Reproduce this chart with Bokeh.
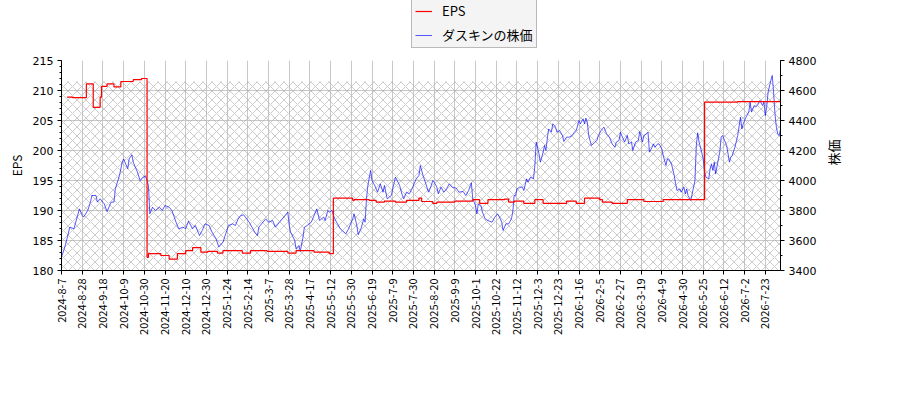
import numpy as np

from bokeh.plotting import figure
from bokeh.layouts import column
from bokeh.models import (
    ColumnDataSource,
    Range1d,
    LinearAxis,
    FixedTicker,
    SingleIntervalTicker,
    Legend,
    LegendItem,
)
from bokeh.embed import file_html
from bokeh.resources import INLINE

# trading-day index of each tick and its date label
tick_labels = [
    "2024-8-7", "2024-8-28", "2024-9-18", "2024-10-9", "2024-10-30", "2024-11-20",
    "2024-12-10", "2024-12-30", "2025-1-24", "2025-2-14", "2025-3-7", "2025-3-28",
    "2025-4-17", "2025-5-12", "2025-5-30", "2025-6-19", "2025-7-9", "2025-7-30",
    "2025-8-20", "2025-9-9", "2025-10-1", "2025-10-22", "2025-11-12", "2025-12-3",
    "2025-12-23", "2026-1-16", "2026-2-5", "2026-2-27", "2026-3-19", "2026-4-9",
    "2026-4-30", "2026-5-25", "2026-6-12", "2026-7-2", "2026-7-23",
]
tick_days = [i * 15 for i in range(len(tick_labels))]
last_day = 521

# EPS (step values, trading-day index where each level starts)
eps_day = [4, 8, 18, 23, 28, 29, 33, 38, 43, 52, 58, 62, 63, 72, 78, 84, 90, 95,
           101, 106, 113, 117, 131, 137, 149, 164, 170, 183, 194, 197, 211, 212,
           223, 228, 234, 242, 250, 259, 261, 269, 272, 285, 298, 303, 309, 321,
           324, 328, 335, 343, 349, 366, 373, 379, 390, 392, 399, 410, 422, 436,
           466, 490, 521]
eps = [208.9, 208.8, 211.1, 207.2, 208.9, 210.7, 211.1, 210.6, 211.5, 211.8, 212.0,
       182.2, 182.8, 182.5, 181.9, 182.8, 183.3, 183.8, 183.05, 183.2, 182.9, 183.3,
       182.9, 183.3, 183.2, 182.9, 183.3, 183.05, 182.8, 192.05, 191.7, 191.8, 191.7,
       191.4, 191.55, 191.4, 191.7, 192.05, 191.5, 191.2, 191.4, 191.55, 191.8, 191.2,
       191.8, 191.9, 191.4, 191.55, 191.2, 191.8, 191.2, 191.55, 191.2, 192.05, 191.8,
       191.4, 191.2, 191.8, 191.5, 191.8, 208.05, 208.15, 208.1]

# stock price
price_day = [0, 2, 4, 6, 9, 13, 15, 16, 19, 21, 22, 25, 26, 28, 31, 33, 36, 38, 39, 42,
             44, 45, 48, 49, 51, 52, 55, 57, 59, 61, 63, 64, 66, 68, 71, 73, 75, 78, 80,
             83, 85, 88, 90, 92, 95, 97, 100, 102, 104, 107, 109, 112, 114, 117, 119, 121,
             124, 126, 128, 130, 132, 136, 140, 142, 143, 148, 150, 153, 155, 158, 160,
             164, 165, 166, 169, 170, 172, 173, 175, 176, 178, 181, 182, 185, 187, 190,
             191, 193, 194, 196, 198, 200, 202, 206, 208, 211, 212, 214, 215, 217, 219,
             220, 221, 222, 224, 225, 227, 229, 231, 233, 234, 236, 239, 240, 242, 245,
             247, 248, 250, 252, 254, 257, 259, 260, 262, 264, 266, 268, 269, 270, 272,
             273, 275, 277, 279, 281, 283, 286, 288, 291, 293, 295, 297, 298, 300, 301,
             302, 304, 305, 307, 309, 312, 314, 316, 318, 319, 320, 322, 324, 326, 327,
             328, 329, 330, 332, 334, 335, 337, 338, 340, 342, 343, 344, 346, 347, 349,
             350, 351, 352, 353, 355, 356, 358, 359, 361, 363, 364, 366, 368, 370, 372,
             373, 375, 376, 378, 379, 380, 381, 382, 384, 386, 388, 389, 391, 393, 395,
             397, 399, 401, 402, 404, 405, 407, 408, 410, 411, 413, 414, 416, 418, 419,
             421, 422, 424, 425, 426, 428, 429, 430, 432, 433, 435, 436, 438, 439, 440,
             442, 444, 445, 446, 448, 449, 451, 452, 453, 454, 456, 457, 459, 460, 461,
             462, 463, 465, 466, 467, 469, 470, 471, 472, 473, 474, 476, 477, 478, 479,
             480, 482, 483, 484, 485, 486, 488, 490, 492, 493, 494, 496, 498, 499, 500,
             502, 503, 505, 506, 508, 509, 510, 511, 512, 514, 515, 516, 517, 518, 519,
             520, 521]
price = [3489, 3544, 3611, 3689, 3678, 3811, 3767, 3756, 3800, 3856, 3900, 3900, 3856,
         3878, 3844, 3793, 3856, 3856, 3944, 4033, 4122, 4144, 4078, 4144, 4171, 4122,
         4056, 4000, 4022, 4029, 3967, 3778, 3822, 3800, 3822, 3800, 3833, 3822, 3800,
         3722, 3678, 3689, 3678, 3729, 3678, 3700, 3633, 3667, 3711, 3700, 3656, 3611,
         3556, 3589, 3644, 3700, 3711, 3700, 3744, 3767, 3771, 3722, 3656, 3633, 3689,
         3744, 3722, 3733, 3689, 3722, 3744, 3789, 3700, 3656, 3600, 3544, 3567, 3527,
         3622, 3689, 3700, 3722, 3744, 3811, 3733, 3756, 3733, 3800, 3789, 3800, 3744,
         3711, 3678, 3644, 3678, 3744, 3778, 3700, 3638, 3678, 3744, 3722, 3878, 3967,
         4067, 4000, 3967, 3922, 3978, 3922, 3967, 3878, 3900, 3944, 4022, 3967, 3900,
         3878, 3922, 3911, 3944, 4011, 4033, 4100, 4033, 3978, 3922, 3967, 4000, 3989,
         3956, 3911, 3956, 3922, 3944, 3978, 3956, 3949, 3922, 3927, 3900, 3933, 3985,
         3878, 3833, 3778, 3844, 3833, 3789, 3744, 3733, 3722, 3756, 3778, 3744, 3722,
         3667, 3711, 3711, 3744, 3789, 3900, 3900, 3944, 3956, 3956, 3933, 4011, 3989,
         4022, 4011, 4100, 4256, 4178, 4122, 4189, 4233, 4200, 4278, 4344, 4322, 4378,
         4356, 4322, 4333, 4300, 4260, 4289, 4289, 4300, 4327, 4333, 4400, 4378, 4411,
         4378, 4416, 4389, 4300, 4233, 4251, 4267, 4300, 4333, 4356, 4311, 4289, 4244,
         4222, 4256, 4267, 4322, 4278, 4256, 4300, 4244, 4256, 4200, 4256, 4267, 4327,
         4256, 4300, 4311, 4322, 4189, 4222, 4244, 4222, 4244, 4244, 4211, 4167, 4100,
         4144, 4144, 4111, 4033, 3978, 3933, 3944, 3922, 3956, 3911, 3944, 3900, 3867,
         3911, 4000, 4233, 4318, 4256, 4222, 4144, 4056, 4022, 4011, 4078, 4111, 4067,
         4122, 4044, 4144, 4189, 4289, 4300, 4278, 4233, 4178, 4122, 4156, 4167, 4222,
         4300, 4422, 4344, 4378, 4422, 4456, 4522, 4456, 4500, 4489, 4511, 4533, 4500,
         4522, 4433, 4489, 4589, 4667, 4700, 4589, 4444, 4356, 4311, 4300, 4340]

hatch_top = 211.5

FONT = "DejaVu Sans"
JP_FONT = "Noto Sans CJK JP"
EPS_COLOR = "red"
PRICE_COLOR = "blue"

p = figure(
    frame_width=719, frame_height=210,
    min_border_left=61, min_border_right=120, min_border_top=10, min_border_bottom=130,
    x_range=Range1d(0, last_day), y_range=Range1d(180, 215),
    output_backend="svg", toolbar_location=None,
)
p.extra_y_ranges = {"price": Range1d(3400, 4800)}
p.outline_line_color = None
p.background_fill_color = "white"
p.border_fill_color = "white"

# hatched band behind the data
p.quad(left=0, right=last_day, bottom=180, top=hatch_top,
       fill_color=None, line_color=None,
       hatch_pattern="diagonal_cross", hatch_color="#aaaaaa",
       hatch_scale=9, hatch_weight=0.8, hatch_alpha=0.75)

price_src = ColumnDataSource(dict(day=price_day, price=price))
eps_src = ColumnDataSource(dict(day=eps_day, eps=eps))

p.line("day", "price", source=price_src, y_range_name="price",
       line_color=PRICE_COLOR, line_alpha=0.65, line_width=1)
p.step("day", "eps", source=eps_src, mode="after",
       line_color=EPS_COLOR, line_width=1.2)

# axes
p.xaxis.ticker = FixedTicker(ticks=tick_days)
p.xaxis.major_label_overrides = {d: lab for d, lab in zip(tick_days, tick_labels)}
p.xaxis.major_label_orientation = np.pi / 2
p.yaxis.ticker = SingleIntervalTicker(interval=5, num_minor_ticks=5)
p.yaxis.axis_label = "EPS"

right = LinearAxis(y_range_name="price", axis_label="株価",
                   ticker=SingleIntervalTicker(interval=200, num_minor_ticks=2))
p.add_layout(right, "right")

for ax in [p.xaxis[0], p.yaxis[0], right]:
    ax.axis_line_color = "black"
    ax.major_tick_line_color = "black"
    ax.minor_tick_line_color = "black"
    ax.major_tick_in = 0
    ax.major_tick_out = 4
    ax.minor_tick_in = 0
    ax.minor_tick_out = 2
    ax.major_label_text_font = FONT
    ax.major_label_text_font_size = "11px"
    ax.major_label_text_color = "black"
    ax.axis_label_text_font = JP_FONT
    ax.axis_label_text_font_size = "12px"
    ax.axis_label_text_font_style = "normal"
    ax.axis_label_text_color = "black"
    ax.major_label_standoff = 4
p.xaxis.minor_tick_line_color = None
p.xaxis.major_label_text_font = JP_FONT
p.yaxis.axis_label_standoff = 5
right.axis_label_text_font_size = "13px"
right.axis_label_standoff = 14
right.axis_label_orientation = np.pi / 2

p.xgrid.ticker = FixedTicker(ticks=tick_days)
p.grid.grid_line_color = "#c8c8c8"
p.grid.grid_line_width = 1

# legend strip above the chart (a legend inside the chart gets clipped to the frame)
top = figure(
    width=900, height=50, min_border=0,
    x_range=Range1d(0, 1), y_range=Range1d(0, 1),
    x_axis_location=None, y_axis_location=None,
    output_backend="svg", toolbar_location=None,
)
top.grid.visible = False
top.outline_line_color = None
# off-screen stand-ins so the legend has glyphs to draw
l_eps = top.line(x=[-2, -1], y=[-2, -1], line_color=EPS_COLOR, line_width=1.2)
l_price = top.line(x=[-2, -1], y=[-2, -1], line_color=PRICE_COLOR, line_alpha=0.65, line_width=1)

legend = Legend(
    items=[LegendItem(label="EPS", renderers=[l_eps]),
           LegendItem(label="ダスキンの株価", renderers=[l_price])],
    location=(350, 2),
    orientation="vertical",
    label_text_font=JP_FONT,
    label_text_font_size="13px",
    label_text_line_height=1.0,
    label_text_color="black",
    background_fill_color="#f4f4f4",
    background_fill_alpha=1.0,
    border_line_color="#808080",
    border_line_width=1,
    padding=3,
    spacing=5,
    margin=0,
    glyph_width=17,
    glyph_height=12,
    label_height=12,
    label_standoff=10,
)
top.add_layout(legend, "center")

layout = column(top, p, spacing=0)

open("out.html", "w").write(file_html(layout, INLINE))
